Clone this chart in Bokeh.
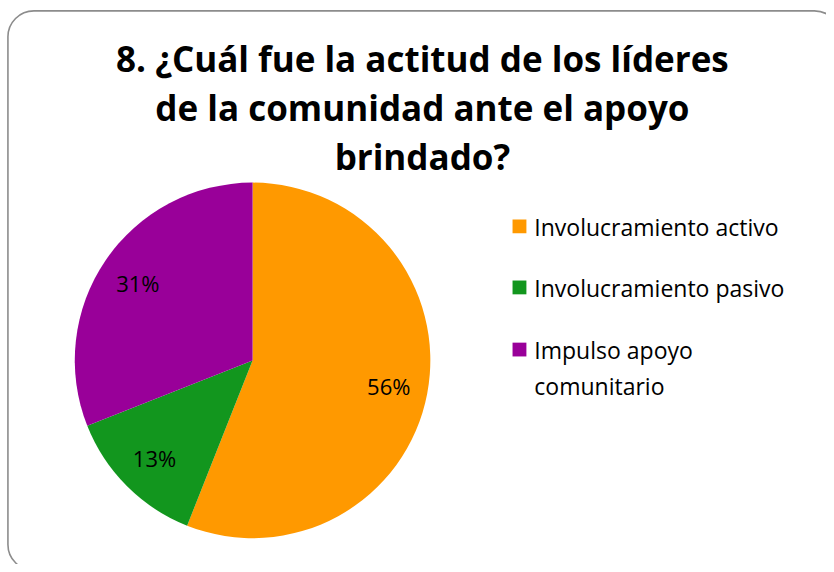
import math
import textwrap
from bokeh.plotting import figure
from bokeh.models import Range1d
from bokeh.core.properties import value
from bokeh.embed import file_html
from bokeh.resources import INLINE

# ---- data ----
title_lines = ["8. ¿Cuál fue la actitud de los líderes",
               "de la comunidad ante el apoyo",
               "brindado?"]
categories = ["Involucramiento activo", "Involucramiento pasivo", "Impulso apoyo comunitario"]
percents = [56, 13, 31]
colors = ["#FF9900", "#12961E", "#990099"]

W, H = 826, 564
RW, RH = 834, 572  # reference canvas, mapped onto the figure


def Y(py):
    # reference y (down) -> data y (up)
    return RH - py


p = figure(width=W, height=H, output_backend="svg", toolbar_location=None,
           x_range=Range1d(0, RW), y_range=Range1d(0, RH),
           min_border=0, outline_line_color=None)
p.axis.visible = False
p.grid.visible = False
p.background_fill_color = "white"
p.border_fill_color = "white"

# rounded frame
p.quad(left=[7.5], right=[848], top=[Y(10.5)], bottom=[Y(578)], fill_color=None,
       line_color="#8C8C8C", line_width=1.6, border_radius=26)

# title
p.text(x=[426] * 3, y=[Y(59), Y(109), Y(158)], text=title_lines,
       text_font=value("Open Sans"), text_font_style="bold", text_font_size="35px",
       text_align="center", text_baseline="middle", text_color="black")

# pie
cx, cy, r = 254.5, Y(365), 179.5
total = sum(percents)
starts, ends, cum = [], [], 0.0
for v in percents:
    starts.append(math.pi / 2 - 2 * math.pi * cum / total)
    cum += v
    ends.append(math.pi / 2 - 2 * math.pi * cum / total)
p.wedge(x=[cx] * 3, y=[cy] * 3, radius=r, start_angle=starts, end_angle=ends,
        direction="clock", fill_color=colors, line_color=None)

# slice labels
lx, ly, lt = [], [], []
for s, e, v in zip(starts, ends, percents):
    m = (s + e) / 2
    lx.append(cx + 0.78 * r * math.cos(m))
    ly.append(cy + 0.78 * r * math.sin(m))
    lt.append(f"{v}%")
p.text(x=lx, y=ly, text=lt, text_font=value("Open Sans"), text_font_size="22px",
       text_align="center", text_baseline="middle", text_color="black")

# legend
leg_y = [229, 291, 354]
p.rect(x=[524] * 3, y=[Y(v) for v in leg_y], width=14, height=14,
       fill_color=colors, line_color=None)
p.text(x=[539] * 3, y=[Y(v - 16) for v in leg_y],
       text=[textwrap.fill(c, 22) for c in categories],
       text_font=value("Open Sans"), text_font_size="23px", text_line_height=1.12,
       text_align="left", text_baseline="top", text_color="black")

open("out.html", "w").write(file_html(p, INLINE))
